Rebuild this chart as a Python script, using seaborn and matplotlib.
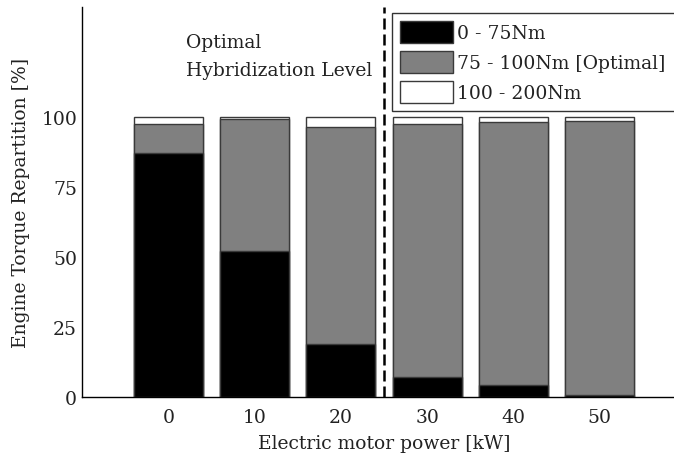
import numpy as np
import pandas as pd
import matplotlib
matplotlib.use('Agg')
import matplotlib.pyplot as plt
import seaborn as sns
from matplotlib.patches import Patch

sns.set_style('white')
plt.rcParams['font.family'] = ['DejaVu Serif']

# data
power_kw = ['0', '10', '20', '30', '40', '50']
low_torque = [87.1, 52.0, 18.9, 7.0, 4.3, 0.8]        # 0 - 75Nm
optimal_top = [97.6, 99.3, 96.3, 97.6, 98.1, 98.6]    # cumulative up to 100Nm
total = [100, 100, 100, 100, 100, 100]                 # remainder 100 - 200Nm
legend_labels = ['0 - 75Nm', '75 - 100Nm [Optimal]', '100 - 200Nm']
optimal_line_pos = 2.5   # between 20 and 30 kW

df = pd.DataFrame({'power': power_kw, 'low': low_torque,
                   'mid': optimal_top, 'total': total})

fs = 13.5
fig = plt.figure(figsize=(6.74, 4.60), dpi=100)
ax = fig.add_axes([0.1217, 0.1348, 0.896, 0.848])

edge = '#3a3a3a'
# stacked bars drawn as overlapping cumulative layers
sns.barplot(data=df, x='power', y='total', color='white', width=0.8,
            edgecolor=edge, linewidth=1.0, saturation=1, ax=ax)
sns.barplot(data=df, x='power', y='mid', color='#808080', width=0.8,
            edgecolor=edge, linewidth=1.0, saturation=1, ax=ax)
sns.barplot(data=df, x='power', y='low', color='black', width=0.8,
            edgecolor=edge, linewidth=1.0, saturation=1, ax=ax)

ax.axvline(optimal_line_pos, color='black', linestyle=(0, (4.4, 2)), linewidth=1.8)
ax.text(0.2, 130.0, 'Optimal\nHybridization Level', fontsize=fs,
        va='top', ha='left', linespacing=1.75, color='#222222')

ax.set_xlim(-1, 6)
ax.set_ylim(0, 139.3)
ax.set_yticks([0, 25, 50, 75, 100])
ax.set_xlabel('Electric motor power [kW]', fontsize=fs, labelpad=6, color='#222222')
ax.set_ylabel('Engine Torque Repartition [%]', fontsize=fs, labelpad=8, color='#222222')
ax.tick_params(axis='both', labelsize=fs, length=0, labelcolor='#222222')
ax.tick_params(axis='x', pad=8)
for side in ['top', 'right']:
    ax.spines[side].set_visible(False)
for side in ['left', 'bottom']:
    ax.spines[side].set_color('black')
    ax.spines[side].set_linewidth(1.0)

handles = [Patch(facecolor='black', edgecolor=edge),
           Patch(facecolor='#808080', edgecolor=edge),
           Patch(facecolor='white', edgecolor=edge)]
# legend box runs off the right edge of the figure, as in the original
leg = ax.legend(handles, legend_labels, loc='upper left', mode='expand',
                bbox_to_anchor=(0.513, 0.5, 0.56, 0.485), fontsize=fs,
                frameon=True, fancybox=False, edgecolor='black',
                handlelength=2.8, handleheight=1.4, handletextpad=0.25,
                borderpad=0.45, labelspacing=0.45, borderaxespad=0)
leg.get_frame().set_linewidth(1.0)
for t in leg.get_texts():
    t.set_color('#222222')

fig.savefig('out.png', dpi=100)
